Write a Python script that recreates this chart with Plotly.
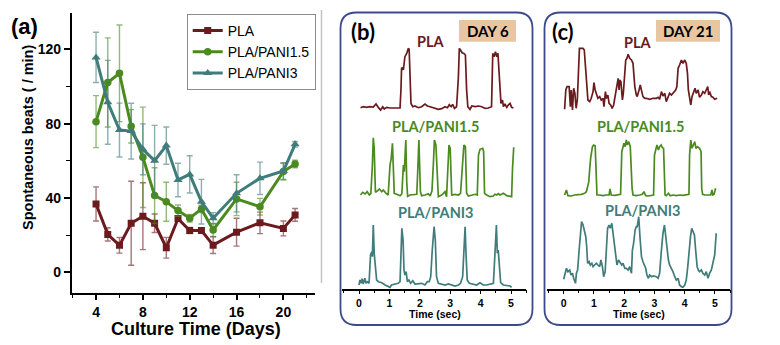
import plotly.graph_objects as go

W, H = 780, 345
def px(x): return x / W
def py(y): return 1 - y / H

# ---------------- panel (a) data ----------------
days = [4, 5, 6, 7, 8, 9, 10, 11, 12, 13, 14, 16, 18, 20, 21]
pla = [36.8, 20.4, 14.5, 26.4, 30.2, 26.4, 13.2, 28.9, 22.5, 22.5, 14.6, 21.6, 26.6, 23.6, 30.9]
pla_err = [9.2, 3.6, 4.2, 22.6, 18.0, 5.0, 5.6, 1.5, 1.7, 1.0, 4.5, 7.5, 5.8, 4.0, 3.4]
pani15 = [81.1, 102.2, 107.1, 78.6, 61.9, 41.3, 38.0, 33.2, 29.1, 34.1, 22.8, 39.5, 35.3, 54.2, 58.3]
pani15_err = [14, 24, 26, 9, 27, 15, 10.5, 3, 2, 2, 3.5, 9, 4.5, 4.5, 2]
pani3 = [115.7, 91.5, 76.6, 76.0, 66.2, 60.1, 68.2, 49.7, 52.7, 38.0, 29.1, 42.5, 50.6, 54.5, 68.9]
pani3_err = [13.5, 22.6, 14.5, 15, 13.7, 19, 10, 9, 10, 12, 3, 10, 8.7, 4.5, 1.5]
x_ticks = [4, 8, 12, 16, 20]
y_ticks = [0, 40, 80, 120]
time_ticks = [0, 1, 2, 3, 4, 5]

# ---------------- panel (b) DAY 6 traces (time s, amplitude a.u.) ----------------
b_pla_t = [0.05,0.14,0.25,0.36,0.47,0.56,0.64,0.71,0.78,0.83,0.91,1.02,1.18,1.35,1.38,1.40,1.44,1.46,1.51,1.57,1.62,1.65,1.68,1.71,1.77,1.84,1.95,2.06,2.17,2.25,2.34,2.45,2.61,2.72,2.83,2.91,2.97,3.03,3.08,3.14,3.21,3.27,3.30,3.34,3.39,3.45,3.50,3.54,3.58,3.65,3.71,3.82,3.93,4.04,4.15,4.25,4.33,4.36,4.40,4.44,4.49,4.53,4.57,4.62,4.67,4.72,4.75,4.80,4.86,4.91,4.97,5.02,5.08]
b_pla_v = [0,1,0.3,1,0.7,3.7,0,-2.3,1,-1.3,0.3,-0.3,-0.3,-0.3,17.7,39.3,40.3,37.7,51,54.3,59.3,58.3,31,4.3,1,1.7,0,1,3.7,1.7,1,-0.3,-1.7,-1,1,0,3,1,3.3,-0.7,1,31,59.3,57.7,55,54.3,52.7,17.7,1,-1.7,1.7,1,1.7,1,-0.7,-0.3,0.3,1,54.3,51,56,51,54.3,24.3,4.3,7.7,1,3.7,0.3,2.7,4.3,0.3,-0.3]
b_g_t = [0.05,0.12,0.20,0.27,0.34,0.39,0.44,0.47,0.50,0.54,0.60,0.67,0.75,0.80,0.89,0.96,1.02,1.06,1.10,1.13,1.16,1.24,1.35,1.41,1.46,1.49,1.54,1.57,1.60,1.68,1.79,1.90,1.94,1.97,2.02,2.06,2.17,2.28,2.34,2.40,2.45,2.48,2.53,2.58,2.61,2.72,2.83,2.88,2.93,2.96,3.00,3.05,3.16,3.27,3.34,3.40,3.45,3.50,3.54,3.60,3.71,3.82,3.89,3.93,3.98,4.07,4.10,4.13,4.20,4.31,4.42,4.47,4.53,4.58,4.64,4.75,4.86,4.97,5.02,5.05,5.09]
b_g_v = [-1,1.7,0,2.3,-1,0.3,29,56.3,45.7,1.7,3,5,2.3,4,0.7,-1,29,35.7,50.7,29,0.7,-0.3,-1.7,0.3,29,22.3,54,12.3,-2.3,-1,-0.3,-0.3,29,54,2.3,-1.7,-1,0.3,-2,3,32.3,54,49,12.3,-2.7,-1,2.3,-2.7,25.7,49,45.7,-1,-0.3,-1,0.7,29,49,47.3,0.7,-2,-1,-0.3,-1,39,44.7,45.7,42.3,0.7,-1,-2.7,-2,-0.3,-1,0.3,-1,0.7,-1.7,-2,-2.7,25.7,46.7]
b_t_t = [0.00,0.03,0.07,0.10,0.14,0.19,0.23,0.27,0.33,0.36,0.38,0.42,0.44,0.47,0.50,0.54,0.58,0.64,0.75,0.86,0.96,1.02,1.07,1.18,1.29,1.35,1.38,1.41,1.45,1.48,1.51,1.55,1.59,1.64,1.70,1.77,1.84,1.95,2.06,2.17,2.25,2.31,2.36,2.41,2.47,2.51,2.55,2.61,2.72,2.83,2.94,3.05,3.16,3.27,3.34,3.41,3.45,3.49,3.52,3.56,3.63,3.74,3.87,3.98,4.09,4.20,4.31,4.42,4.45,4.48,4.52,4.55,4.58,4.62,4.66,4.75,4.86,4.97,5.02]
b_t_v = [0,5,1.7,6.3,1,6.7,1.7,3.3,1.7,18.3,30,33.3,28.3,60,31.7,18.3,5,3.3,2.3,0,-1,-2.3,0,1,1.7,3.3,31.7,56.7,45,15,10,13.3,3.3,5,1.7,4.3,1,1,1.7,0,3.3,3.3,8.3,35,58.3,45,8.3,1.7,1,0,1,0,-1,0,1.7,8.3,35,58.3,31.7,5,1.7,1,0,2.3,0,0,1,1.7,18.3,38.3,60,31.7,35,18.3,2.3,0,-0.7,-1,-2.3]

# ---------------- panel (c) DAY 21 traces ----------------
c_pla_t = [0.03,0.07,0.11,0.18,0.22,0.25,0.29,0.33,0.37,0.41,0.45,0.48,0.52,0.56,0.64,0.68,0.73,0.76,0.80,0.86,0.91,0.97,1.00,1.04,1.08,1.13,1.19,1.24,1.30,1.33,1.38,1.41,1.46,1.50,1.55,1.60,1.65,1.71,1.76,1.80,1.83,1.85,1.89,1.94,1.97,2.02,2.05,2.09,2.13,2.18,2.24,2.29,2.35,2.40,2.43,2.49,2.53,2.58,2.62,2.68,2.73,2.84,2.95,3.06,3.12,3.17,3.23,3.28,3.34,3.39,3.45,3.50,3.56,3.61,3.67,3.70,3.74,3.78,3.83,3.89,3.94,4.00,4.05,4.09,4.12,4.16,4.20,4.24,4.30,4.34,4.38,4.44,4.49,4.55,4.60,4.66,4.71,4.76,4.79,4.82,4.88,4.93,4.99,5.07]
c_pla_v = [-11,8.3,11.7,11.7,-8.3,8.3,-11.7,10,5,-10,-1.7,31.7,50,50,50,48.3,28.3,8.3,-1.7,-3.3,0,6.7,15.7,8.3,5,0,1.7,-1.7,0,-8.3,6.7,0,3.3,-5,-6.7,-10,-6.7,5,11.7,20,8.3,18.3,16.7,-1.7,5,28.3,38.3,40,44,40,38.3,35,11.7,3.3,1.7,8.3,13.3,6.7,1.7,0,0,-1,0,0,1,-1,6.7,2.3,5,-3.3,1.7,5,3.3,5,6.7,8.3,11.7,30,33.3,38.3,35,38.3,35,25,8.3,0,-6.7,1.7,5.7,10,5,8.3,1,3.3,6.7,5,8.3,11.7,3.3,6.7,1.7,1,-1,0]
c_g_t = [0.03,0.09,0.14,0.25,0.36,0.47,0.58,0.69,0.75,0.79,0.83,0.86,0.89,0.95,0.99,1.04,1.07,1.10,1.19,1.30,1.41,1.50,1.53,1.57,1.69,1.80,1.88,1.92,1.95,1.99,2.03,2.07,2.10,2.15,2.20,2.22,2.26,2.29,2.40,2.51,2.60,2.65,2.71,2.79,2.90,2.97,3.00,3.04,3.08,3.13,3.17,3.22,3.26,3.30,3.35,3.39,3.46,3.52,3.61,3.72,3.83,3.94,4.05,4.14,4.16,4.20,4.24,4.28,4.33,4.37,4.42,4.46,4.49,4.54,4.56,4.59,4.66,4.77,4.86,4.90,4.93,4.97,5.02]
c_g_v = [0,5,-0.7,-1,0,0,0.7,1.7,3.3,8.3,13.3,26.7,36.7,48.3,50,49.3,13.3,0,0,-0.7,0,0,6,0,-0.3,0,0.7,43.3,46.7,51.7,48.3,55,50,53.3,48.3,33.3,6.7,0,-0.7,0,0.7,3.3,-0.7,-1,0,0,40,46.7,50,45,48.3,50,47.3,46.7,0,-0.7,1.7,-0.7,0,-0.7,0,-0.3,0,0.7,40,55,46.7,50,53.3,46.7,48.3,47.3,46.7,43.3,6.7,0.7,0,0,0,5,0,0.7,6.7]
c_t_t = [0.00,0.03,0.09,0.14,0.20,0.24,0.29,0.33,0.39,0.42,0.46,0.51,0.55,0.59,0.64,0.68,0.73,0.76,0.79,0.84,0.88,0.93,0.97,1.02,1.08,1.13,1.19,1.23,1.28,1.32,1.37,1.41,1.45,1.50,1.54,1.59,1.63,1.67,1.72,1.76,1.81,1.85,1.92,1.96,2.02,2.07,2.13,2.18,2.24,2.27,2.31,2.36,2.40,2.43,2.48,2.52,2.57,2.62,2.67,2.71,2.75,2.80,2.84,2.90,2.97,3.06,3.12,3.17,3.23,3.28,3.33,3.37,3.41,3.46,3.50,3.56,3.61,3.67,3.72,3.78,3.83,3.89,3.94,4.00,4.05,4.10,4.14,4.19,4.23,4.27,4.32,4.36,4.41,4.45,4.49,4.55,4.60,4.66,4.71,4.77,4.82,4.88,4.93,4.99,5.04]
c_t_v = [0.7,5,11.7,8.3,10,5,6.7,1.7,-3.3,6.7,10,30,46.7,58.3,55,48.3,43.3,33.3,16.7,18.3,15,16.7,13.3,15,16.7,15,13.3,20,13.3,3.3,8.3,30,51.7,55,51.7,56.7,46.7,35,26.7,15,20,18.3,15,16.7,11.7,11.7,10,13.3,6.7,30,36.7,50,53.3,53.3,63.3,43.3,23.3,18.3,13.3,11.7,5,1.7,5,3.3,4,3.3,1.7,6.7,30,46.7,55,43.3,33.3,20,15,11.7,8.3,3.3,0,1.7,-5,-6.7,-7.3,-5,0,13.3,30,43.3,51.7,48.3,45,30,13.3,10,8.3,10,6.7,5,8.3,1.7,6.7,10,16.7,25,46.7]

# ---------------- styling ----------------
C_PLA = '#6b1a1e'
C_G = '#4b8a1f'
C_T = '#3f7c7a'
def rgba(h, a):
    h = h.lstrip('#')
    return 'rgba(%d,%d,%d,%.2f)' % (int(h[0:2], 16), int(h[2:4], 16), int(h[4:6], 16), a)

ARIAL = 'Liberation Sans, Arial'
CAL = 'Lato, Carlito, Calibri'

fig = go.Figure()

for name, ys, es, col, sym, ms in [
    ('PLA', pla, pla_err, C_PLA, 'square', 7),
    ('PLA/PANI1.5', pani15, pani15_err, C_G, 'circle', 7.5),
    ('PLA/PANI3', pani3, pani3_err, C_T, 'triangle-up', 8),
]:
    fig.add_trace(go.Scatter(
        x=days, y=ys, name=name, mode='lines+markers',
        line=dict(color=col, width=3),
        marker=dict(symbol=sym, size=ms, color=col),
        error_y=dict(type='data', array=es, visible=True, color=rgba(col, 0.6), thickness=1.4, width=3),
        xaxis='x', yaxis='y'))

# traces for (b) and (c), each with its own hidden y axis
trace_sets = [
    ('x2', b_pla_t, b_pla_v, C_PLA, 107.7),
    ('x2', b_g_t, b_g_v, C_G, 194.0),
    ('x2', b_t_t, b_t_v, C_T, 285.0),
    ('x3', c_pla_t, c_pla_v, C_PLA, 98.3),
    ('x3', c_g_t, c_g_v, C_G, 195.0),
    ('x3', c_t_t, c_t_v, C_T, 280.0),
]
AMP_LO, AMP_HI = -15, 65
layout_axes = {}
for i, (xa, tt, vv, col, base) in enumerate(trace_sets):
    yname = 'y%d' % (i + 2)
    fig.add_trace(go.Scatter(x=tt, y=vv, mode='lines', line=dict(color=col, width=1.7),
                             showlegend=False, hoverinfo='skip', xaxis=xa, yaxis=yname))
    layout_axes['yaxis%d' % (i + 2)] = dict(
        domain=[py(base - AMP_LO), py(base - AMP_HI)], range=[AMP_LO, AMP_HI],
        visible=False, anchor=xa, fixedrange=True)

def time_axis(x0, sec_px):
    return dict(domain=[px(x0 - 0.55 * sec_px), px(x0 + 5.5 * sec_px)], range=[-0.55, 5.5],
                anchor='free', position=py(289.5), showline=True, linecolor='black', linewidth=1.5,
                ticks='outside', ticklen=4, tickwidth=1.2, tickcolor='black',
                tickvals=time_ticks, ticktext=[str(v) for v in time_ticks],
                minor=dict(tickvals=[-0.5, 0.5, 1.5, 2.5, 3.5, 4.5, 5.5], ticks='outside', ticklen=2.5,
                           tickwidth=1, tickcolor='black'),
                showgrid=False, zeroline=False,
                tickfont=dict(family=ARIAL, size=10.5, color='black', weight='bold'))

def rr(x0, y0, x1, y1, r):
    rx = lambda v: '%.5f' % px(v)
    ry = lambda v: '%.5f' % py(v)
    return ('M %s,%s L %s,%s Q %s,%s %s,%s L %s,%s Q %s,%s %s,%s L %s,%s Q %s,%s %s,%s L %s,%s Q %s,%s %s,%s Z' % (
        rx(x0 + r), ry(y0), rx(x1 - r), ry(y0), rx(x1), ry(y0), rx(x1), ry(y0 + r),
        rx(x1), ry(y1 - r), rx(x1), ry(y1), rx(x1 - r), ry(y1),
        rx(x0 + r), ry(y1), rx(x0), ry(y1), rx(x0), ry(y1 - r),
        rx(x0), ry(y0 + r), rx(x0), ry(y0), rx(x0 + r), ry(y0)))

BOX = '#3c4a8c'
TAN = '#e8c6a2'
shapes = [
    dict(type='path', xref='paper', yref='paper', path=rr(340.5, 12.5, 532.5, 325, 16),
         line=dict(color=BOX, width=1.8), layer='below'),
    dict(type='path', xref='paper', yref='paper', path=rr(544.5, 12.5, 731.5, 325, 16),
         line=dict(color=BOX, width=1.8), layer='below'),
    dict(type='rect', xref='paper', yref='paper', x0=px(459), x1=px(516), y0=py(41.7), y1=py(20),
         fillcolor=TAN, line=dict(width=0), layer='below'),
    dict(type='rect', xref='paper', yref='paper', x0=px(656), x1=px(720), y0=py(41.7), y1=py(20),
         fillcolor=TAN, line=dict(width=0), layer='below'),
    dict(type='line', xref='paper', yref='paper', x0=px(321.5), x1=px(321.5), y0=py(10), y1=py(283),
         line=dict(color='#c4c4c4', width=1.5)),
]

def ann(text, x, y, size, color='black', family=ARIAL, angle=0):
    return dict(text=text, x=px(x), y=py(y), xref='paper', yref='paper', showarrow=False,
                xanchor='center', yanchor='middle', textangle=angle,
                font=dict(family=family, size=size, color=color, weight='bold'))

annotations = [
    ann('(a)', 25, 26, 22),
    ann('Spontaneous beats ( / min)', 28, 138, 14.5, angle=-90),
    ann('Culture Time (Days)', 196, 329, 18),
    ann('(b)', 362.5, 31.5, 22, family=CAL),
    ann('DAY 6', 487.5, 31, 15, family=CAL),
    ann('PLA', 430.5, 41.7, 14.5, C_PLA, CAL),
    ann('PLA/PANI1.5', 435.8, 127, 14.5, C_G, CAL),
    ann('PLA/PANI3', 435.7, 212, 14.5, C_T, CAL),
    ann('Time (sec)', 435, 314, 10.5),
    ann('(c)', 563, 31.5, 22, family=CAL),
    ann('DAY 21', 688, 31, 15, family=CAL),
    ann('PLA', 638, 42.3, 14.5, C_PLA, CAL),
    ann('PLA/PANI1.5', 640.5, 127, 14.5, C_G, CAL),
    ann('PLA/PANI3', 643, 210.8, 14.5, C_T, CAL),
    ann('Time (sec)', 639, 314, 10.5),
]

fig.update_layout(
    width=W, height=H, margin=dict(l=0, r=0, t=0, b=0),
    paper_bgcolor='white', plot_bgcolor='white',
    xaxis=dict(domain=[px(71.7), px(315)], range=[1.92, 22.7], anchor='y',
               showline=True, linecolor='black', linewidth=1.5, mirror=False,
               ticks='outside', ticklen=6, tickwidth=1.5, tickcolor='black',
               tickvals=x_ticks,
               minor=dict(tickvals=[2, 6, 10, 14, 18, 22], ticks='outside', ticklen=3.5, tickwidth=1.2,
                          tickcolor='black'),
               showgrid=False, zeroline=False,
               tickfont=dict(family=ARIAL, size=14, color='black', weight='bold')),
    yaxis=dict(domain=[py(292.7), py(13)], range=[-11, 139.6], anchor='x',
               showline=True, linecolor='black', linewidth=1.5,
               ticks='outside', ticklen=6, tickwidth=1.5, tickcolor='black',
               tickvals=y_ticks,
               minor=dict(tickvals=[20, 60, 100], ticks='outside', ticklen=3.5, tickwidth=1.2,
                          tickcolor='black'),
               showgrid=False, zeroline=False,
               tickfont=dict(family=ARIAL, size=14, color='black', weight='bold')),
    xaxis2=time_axis(359.0, 30.4),
    xaxis3=time_axis(563.7, 30.26),
    legend=dict(x=px(186.7), y=py(14), xanchor='left', yanchor='top',
                bgcolor='white', bordercolor='#8a8a8a', borderwidth=1,
                font=dict(family=ARIAL, size=14, color='black'),
                itemwidth=30, tracegroupgap=0),
    shapes=shapes, annotations=annotations,
    showlegend=True,
)
fig.update_layout(**layout_axes)

fig.write_html('out.html')
